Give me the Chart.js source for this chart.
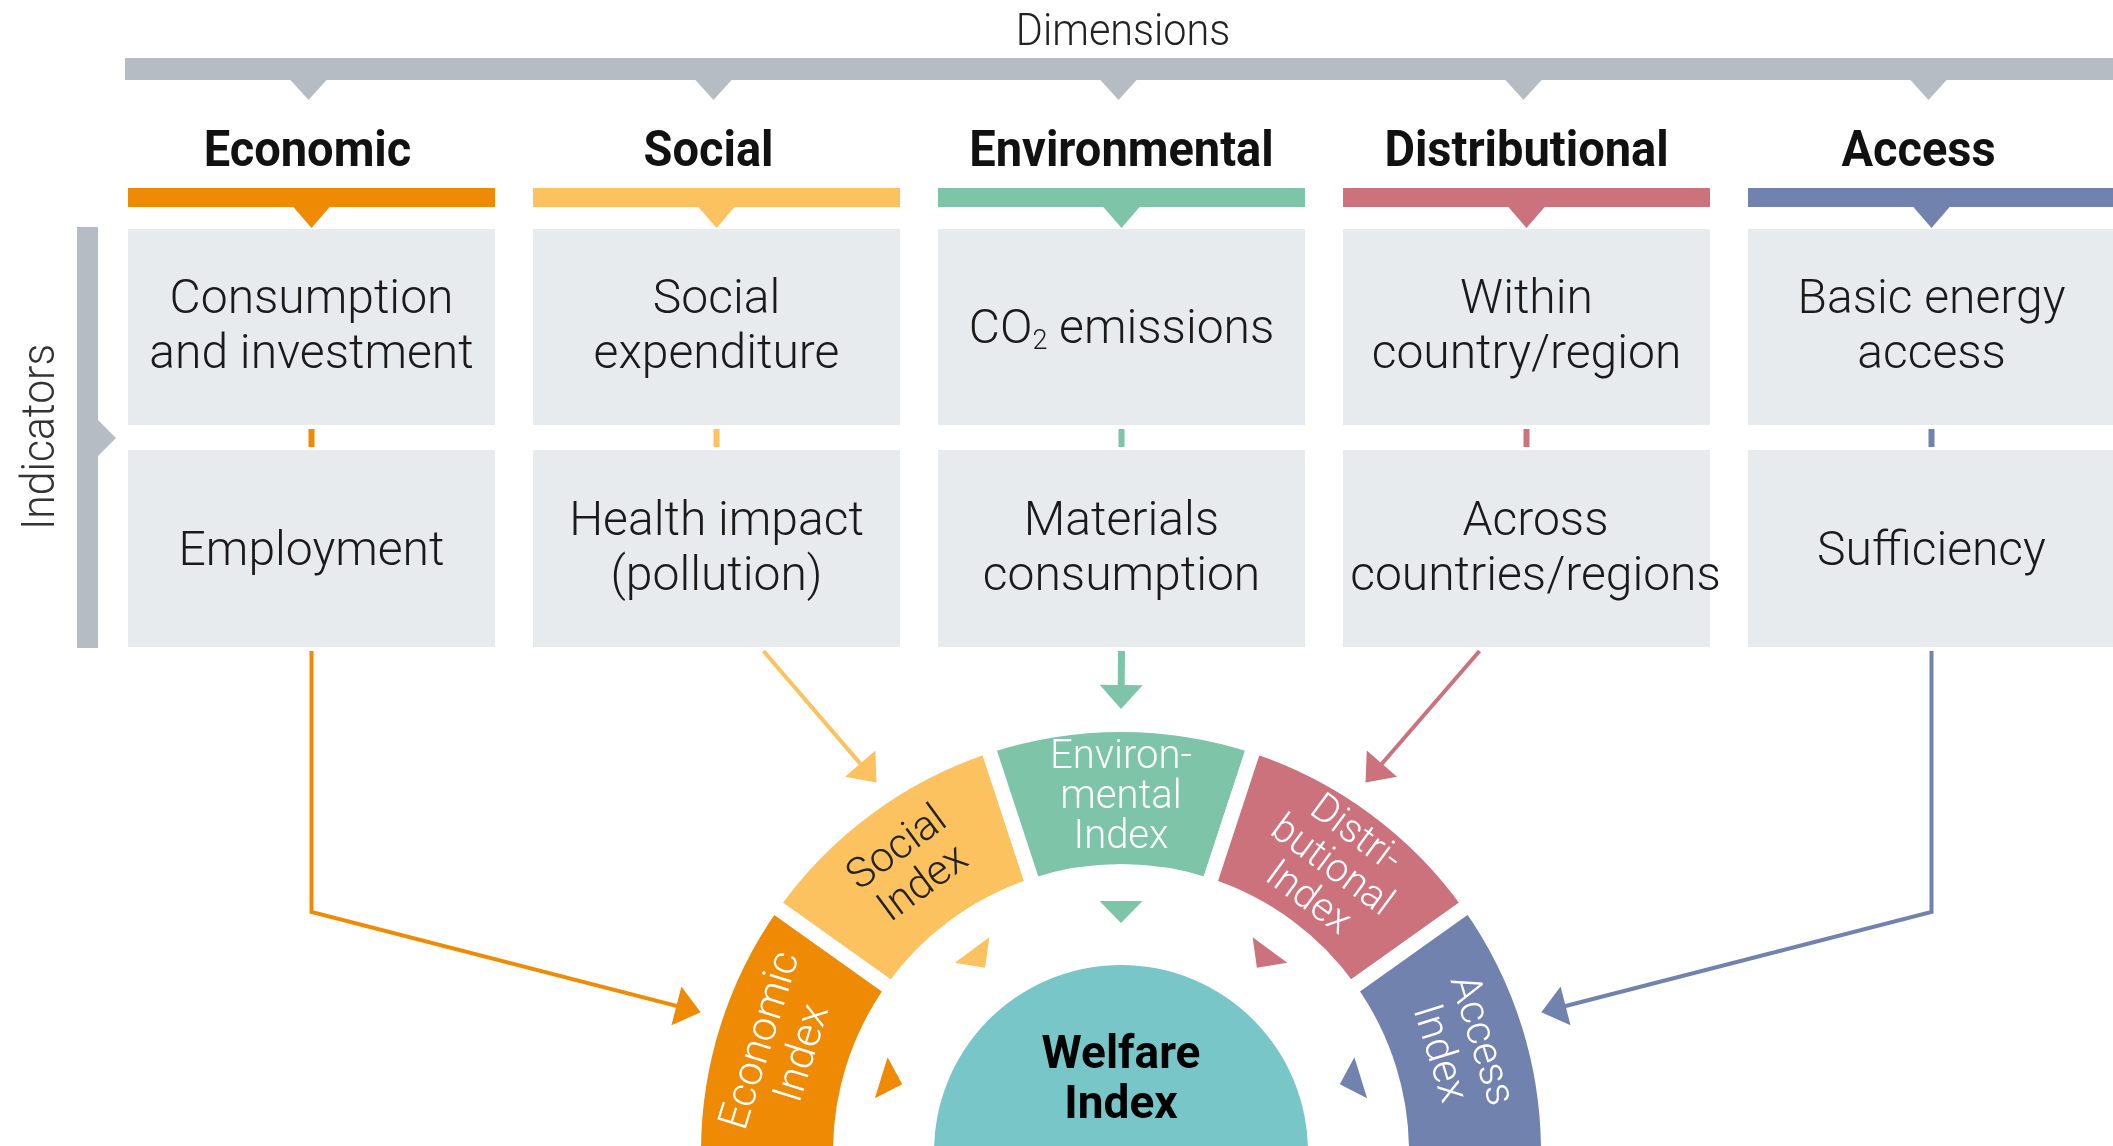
<!DOCTYPE html>
<html>
<head>
<meta charset="utf-8">
<title>Welfare Index framework</title>
<script src="https://cdn.jsdelivr.net/npm/chart.js@4.4.1/dist/chart.umd.min.js"></script>
<style>
  html, body { margin: 0; padding: 0; background: #ffffff; }
  #chart { display: block; }
</style>
</head>
<body>
<canvas id="chart" width="2113" height="1146"></canvas>
<script>
// ---- content ----
const dimensionsTitle = 'Dimensions';
const indicatorsTitle = 'Indicators';
const dimensions = ['Economic', 'Social', 'Environmental', 'Distributional', 'Access'];
// "{2}" marks a subscript
const indicatorsTop = [['Consumption', 'and investment'], ['Social', 'expenditure'], ['CO{2} emissions'], ['Within', 'country/region'], ['Basic energy', 'access']];
const indicatorsBottom = [['Employment'], ['Health impact', '(pollution)'], ['Materials', 'consumption'], ['Across', 'countries/regions'], ['Sufficiency']];
const indexLabels = [['Economic', 'Index'], ['Social', 'Index'], ['Environ-', 'mental', 'Index'], ['Distri-', 'butional', 'Index'], ['Access', 'Index']];
const indexShares = [1, 1, 1, 1, 1];
const welfareLabel = ['Welfare', 'Index'];
const welfareShare = [1];

// ---- style ----
const dimColors = ['#ef8a04', '#fbc25f', '#7dc4a9', '#cb727c', '#7282ae'];
const indexTextColors = ['#ffffff', '#222222', '#ffffff', '#ffffff', '#ffffff'];
const WELFARE_COLOR = '#79c6c8';
const GREY = '#b6bcc4';
const BOX_FILL = '#e8ebee';
const TEXT = '#1a1a1a';
const FONT = 'Roboto, "Open Sans", sans-serif';

// ---- layout ----
const W = 2113, H = 1146;
const COL_X0 = 128, COL_STEP = 405, BOX_W = 367;
const ROW1 = 229, ROW1_H = 196, ROW2 = 450, ROW2_H = 197;
const headerDx = [-4, -8, 0, 0, -13];
const CX = 1121, CY = 1152;
const R_OUT = 420, R_IN = 288, R_WELFARE = 187;
const GAP = 15;          // white border between the index segments
const DIP = 1;           // degrees the ring dips under the horizontal, hides the lower edges
const BEND_Y = 912;
const arrowTilt = [1.2, 2.9, 0, -2.9, -1.2];

const colLeft = i => COL_X0 + i * COL_STEP;
const colCenter = i => colLeft(i) + BOX_W / 2;

function fillCondensed(ctx, text, x, y, squeeze) {
    const w = ctx.measureText(text).width;
    ctx.fillText(text, x, y, w * squeeze);
}

function triangle(ctx, pts, color) {
    ctx.fillStyle = color;
    ctx.beginPath();
    ctx.moveTo(pts[0][0], pts[0][1]);
    ctx.lineTo(pts[1][0], pts[1][1]);
    ctx.lineTo(pts[2][0], pts[2][1]);
    ctx.closePath();
    ctx.fill();
}

function drawRich(ctx, text, cx, y) {
    const parts = text.split(/(\{[^}]*\})/).filter(Boolean).map(p =>
        p.startsWith('{') ? { t: p.slice(1, -1), sub: true } : { t: p, sub: false });
    const mainFont = `300 48px ${FONT}`;
    const subFont = `300 27px ${FONT}`;
    let total = 0;
    parts.forEach(p => {
        ctx.font = p.sub ? subFont : mainFont;
        p.w = ctx.measureText(p.t).width;
        total += p.w;
    });
    let x = cx - total / 2;
    ctx.textAlign = 'left';
    parts.forEach(p => {
        ctx.font = p.sub ? subFont : mainFont;
        ctx.fillText(p.t, x, p.sub ? y + 6 : y);
        x += p.w;
    });
}

function drawBoxText(ctx, lines, cx, top, h) {
    const mid = top + h / 2;
    ctx.fillStyle = TEXT;
    const baselines = lines.length === 1 ? [mid + 16] : [mid - 14, mid + 41];
    lines.forEach((line, k) => drawRich(ctx, line, cx, baselines[k]));
}

function arrow(ctx, pts, color, lw, headLen, headW) {
    const n = pts.length;
    const [tx, ty] = pts[n - 1];
    const [px, py] = pts[n - 2];
    const ang = Math.atan2(ty - py, tx - px);
    const bx = tx - Math.cos(ang) * headLen;
    const by = ty - Math.sin(ang) * headLen;
    ctx.save();
    ctx.strokeStyle = color;
    ctx.lineWidth = lw;
    ctx.lineJoin = 'miter';
    ctx.beginPath();
    ctx.moveTo(pts[0][0], pts[0][1]);
    for (let i = 1; i < n - 1; i++) ctx.lineTo(pts[i][0], pts[i][1]);
    ctx.lineTo(bx + Math.cos(ang) * 2, by + Math.sin(ang) * 2);
    ctx.stroke();
    const nx = Math.sin(ang) * headW / 2, ny = -Math.cos(ang) * headW / 2;
    triangle(ctx, [[tx, ty], [bx + nx, by + ny], [bx - nx, by - ny]], color);
    ctx.restore();
}

function drawTop(ctx) {
    ctx.fillStyle = '#222';
    ctx.font = `300 44px ${FONT}`;
    ctx.textAlign = 'center';
    ctx.textBaseline = 'alphabetic';
    fillCondensed(ctx, dimensionsTitle, 1123, 45, 0.94);

    ctx.fillStyle = GREY;
    ctx.fillRect(125, 58, W - 125, 22);
    dimensions.forEach((d, i) => {
        const cx = colCenter(i) - 3;
        triangle(ctx, [[cx - 19, 79], [cx + 19, 79], [cx, 100]], GREY);
    });

    // indicators bracket on the left
    ctx.fillStyle = GREY;
    ctx.fillRect(77, 227, 21, 421);
    triangle(ctx, [[97, 419], [116, 438], [97, 457]], GREY);
    ctx.save();
    ctx.translate(54, 437);
    ctx.rotate(-Math.PI / 2);
    ctx.fillStyle = '#333';
    ctx.font = `300 46px ${FONT}`;
    ctx.textAlign = 'center';
    ctx.fillText(indicatorsTitle, 0, 0, 186);
    ctx.restore();
}

function drawColumns(ctx) {
    dimensions.forEach((d, i) => {
        const left = colLeft(i), cx = colCenter(i);
        const color = dimColors[i];

        ctx.fillStyle = '#111';
        ctx.font = `700 50px ${FONT}`;
        ctx.textAlign = 'center';
        ctx.textBaseline = 'alphabetic';
        fillCondensed(ctx, d, cx + headerDx[i], 166, 0.94);

        ctx.fillStyle = color;
        ctx.fillRect(left, 188, BOX_W, 19);
        triangle(ctx, [[cx - 19, 206], [cx + 19, 206], [cx, 228]], color);

        ctx.fillStyle = BOX_FILL;
        ctx.fillRect(left, ROW1, BOX_W, ROW1_H);
        ctx.fillRect(left, ROW2, BOX_W, ROW2_H);

        ctx.fillStyle = color;
        ctx.fillRect(cx - 3, 429, 6, 18);

        drawBoxText(ctx, indicatorsTop[i], cx, ROW1, ROW1_H);
        drawBoxText(ctx, indicatorsBottom[i], cx + (i === 3 ? 9 : 0), ROW2, ROW2_H);
    });
}

function drawArrows(ctx, arcs) {
    const startY = ROW2 + ROW2_H + 4;
    arcs.forEach((a, i) => {
        const mid = (a.startAngle + a.endAngle) / 2 + arrowTilt[i] * Math.PI / 180;
        const r = a.outerRadius - GAP / 2 + 23;
        const tip = [a.x + Math.cos(mid) * r, a.y + Math.sin(mid) * r];
        const cx = colCenter(i);
        let pts;
        if (i === 0 || i === 4) pts = [[cx, startY], [cx, BEND_Y], tip];
        else if (i === 1) pts = [[cx + 47, startY], tip];
        else if (i === 3) pts = [[cx - 47, startY], tip];
        else pts = [[cx, startY], tip];
        if (i === 2) arrow(ctx, pts, dimColors[i], 7, 24, 43);
        else arrow(ctx, pts, dimColors[i], 4, 25, 40);
    });
}

function drawIndexLabels(ctx, arcs) {
    arcs.forEach((a, i) => {
        const mid = (a.startAngle + a.endAngle) / 2;
        const inner = a.innerRadius + GAP / 2;
        const rMid = (a.innerRadius + a.outerRadius) / 2;

        // small pointer towards the welfare index
        const cos = Math.cos(mid), sin = Math.sin(mid);
        const rb = inner - 37, rt = inner - 59;
        const bx = a.x + cos * rb, by = a.y + sin * rb;
        triangle(ctx, [
            [bx - sin * 21.5, by + cos * 21.5],
            [bx + sin * 21.5, by - cos * 21.5],
            [a.x + cos * rt, a.y + sin * rt]
        ], dimColors[i]);

        const lines = indexLabels[i];
        const lh = lines.length === 3 ? 40 : 44;
        ctx.save();
        ctx.translate(a.x + cos * rMid, a.y + sin * rMid);
        ctx.rotate(mid + Math.PI / 2);
        ctx.fillStyle = indexTextColors[i];
        ctx.font = `300 ${lines.length === 3 ? 40 : 42}px ${FONT}`;
        ctx.textAlign = 'center';
        ctx.textBaseline = 'middle';
        lines.forEach((line, k) => {
            ctx.fillText(line, 0, (k - (lines.length - 1) / 2) * lh);
        });
        ctx.restore();
    });
}

function drawWelfare(ctx, arc) {
    ctx.fillStyle = '#000';
    ctx.font = `700 46px ${FONT}`;
    ctx.textAlign = 'center';
    ctx.textBaseline = 'alphabetic';
    ctx.fillText(welfareLabel[0], arc.x, arc.y - 84);
    ctx.fillText(welfareLabel[1], arc.x, arc.y - 34);
}

const diagramPlugin = {
    id: 'diagram',
    beforeDatasetsDraw(chart) {
        const ctx = chart.ctx;
        ctx.save();
        drawTop(ctx);
        drawColumns(ctx);
        drawArrows(ctx, chart.getDatasetMeta(0).data);
        ctx.restore();
    },
    afterDatasetsDraw(chart) {
        const ctx = chart.ctx;
        ctx.save();
        drawIndexLabels(ctx, chart.getDatasetMeta(0).data);
        drawWelfare(ctx, chart.getDatasetMeta(2).data[0]);
        ctx.restore();
    }
};

// the doughnut sits so that its centre lands on (CX, CY)
const radius = R_OUT + GAP / 2;
const offY = (1 - Math.sin(DIP * Math.PI / 180)) / 2;

new Chart(document.getElementById('chart'), {
    type: 'doughnut',
    data: {
        labels: indexLabels.map(l => l.join(' ').replace('- ', '')),
        datasets: [
            {
                label: 'Indices',
                data: indexShares,
                backgroundColor: dimColors,
                borderColor: '#ffffff',
                borderWidth: GAP,
                weight: (R_OUT - R_IN) + GAP,
            },
            {
                label: 'spacer',
                data: [1],
                backgroundColor: 'rgba(0,0,0,0)',
                borderWidth: 0,
                weight: (R_IN - GAP / 2) - R_WELFARE,
            },
            {
                label: 'Welfare Index',
                data: welfareShare,
                backgroundColor: WELFARE_COLOR,
                borderWidth: 0,
                weight: R_WELFARE,
            }
        ]
    },
    options: {
        responsive: false,
        devicePixelRatio: 1,
        animation: false,
        events: [],
        rotation: -90 - DIP,
        circumference: 180 + 2 * DIP,
        cutout: 0,
        radius: radius,
        layout: {
            padding: { left: 2 * CX - W, right: 0, top: 2 * (CY - offY * radius) - H, bottom: 0 }
        },
        plugins: {
            legend: { display: false },
            tooltip: { enabled: false }
        }
    },
    plugins: [diagramPlugin]
});
</script>
</body>
</html>
